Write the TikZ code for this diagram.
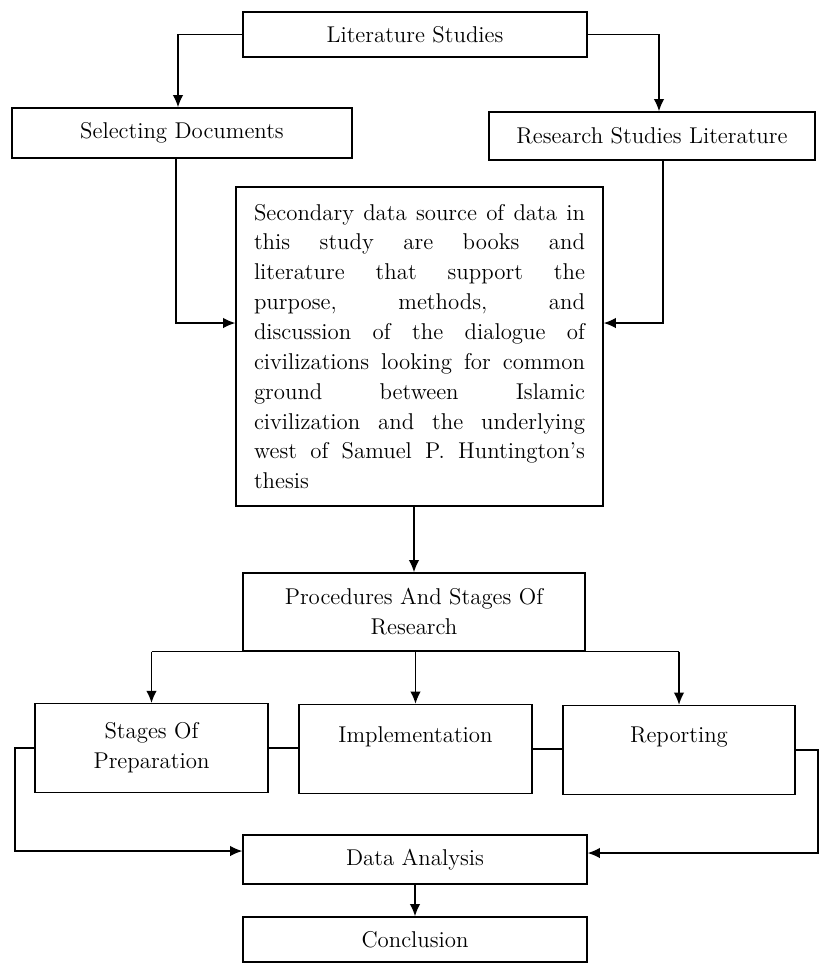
\documentclass[tikz,border=0pt]{standalone}
\usetikzlibrary{arrows.meta}
\tikzset{
  box/.style={draw, thick, align=center, inner sep=0pt, font=\fontsize{13}{17}\selectfont},
  link/.style={thick, ->, >={Latex[length=7pt,width=6pt]}},
  line/.style={thick}
}
\begin{document}
\begin{tikzpicture}[x=0.02cm, y=-0.02cm]
\path[use as bounding box] (0,0) rectangle (822,964);
% top level
\node[box, minimum width=6.88cm, minimum height=0.9cm] (lit) at (415,34.5) {Literature Studies};
\node[box, minimum width=6.8cm, minimum height=1cm] (sel) at (182,133) {Selecting Documents};
\node[box, minimum width=6.52cm, minimum height=0.96cm] (res) at (652,136) {Research Studies Literature};
\node[box, minimum width=7.34cm, minimum height=6.38cm, text width=6.62cm, align=justify] (sec) at (419.5,346.5)
 {Secondary data source of data in\linebreak this study are books and\linebreak literature that support the\linebreak
  purpose, methods, and\linebreak discussion of the dialogue of\linebreak civilizations looking for common\linebreak
  ground between Islamic\linebreak civilization and the underlying\linebreak west of Samuel P. Huntington's\linebreak thesis};
\draw[link] (lit.west) -| ([xshift=-0.08cm]sel.north);
\draw[link] (lit.east) -| ([xshift=0.14cm]res.north);
\draw[link] ([xshift=-0.12cm]sel.south) |- ([yshift=0.47cm]sec.west);
\draw[link] ([xshift=0.22cm]res.south) |- ([yshift=0.47cm]sec.east);
% procedures
\node[box, minimum width=6.84cm, minimum height=1.56cm] (proc) at (414,612) {Procedures And Stages Of\\Research};
\draw[link] (proc.north |- sec.south) -- (proc.north);
\node[box, minimum width=4.66cm, minimum height=1.77cm] (prep) at (151.5,748) {Stages Of\\Preparation};
\node[box, minimum width=4.66cm, minimum height=1.78cm] (impl) at (415.5,749) {Implementation\\\mbox{}};
\node[box, minimum width=4.64cm, minimum height=1.78cm] (rep) at (679,750) {Reporting\\\mbox{}};
\draw[line] (prep.north |- proc.south) -- (rep.north |- proc.south);
\foreach \n in {prep,impl,rep}
  \draw[link] (\n.north |- proc.south) -- (\n.north);
\draw[line] (prep.east) -- (prep.east -| impl.west);
\draw[line] (impl.east) -- (impl.east -| rep.west);
% analysis
\node[box, minimum width=6.88cm, minimum height=0.98cm] (ana) at (415,859.5) {Data Analysis};
\node[box, minimum width=6.88cm, minimum height=0.9cm] (conc) at (415,939.5) {Conclusion};
\coordinate (lfar) at (15,747);
\coordinate (rfar) at (818,750);
\draw[link] (prep.west) -- (prep.west -| lfar) |- ([yshift=0.17cm]ana.west);
\draw[link] (rep.east) -- (rep.east -| rfar) |- ([yshift=0.13cm]ana.east);
\draw[link] (ana.south) -- (conc.north);
\end{tikzpicture}
\end{document}
